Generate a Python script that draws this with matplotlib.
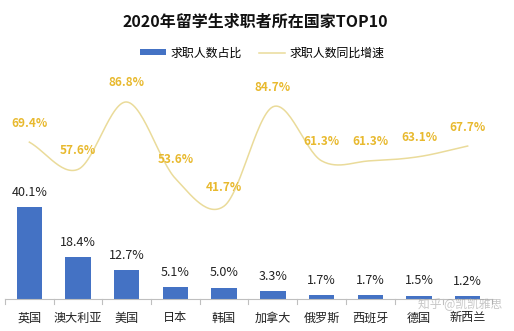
import numpy as np
import matplotlib
matplotlib.use("Agg")
import matplotlib.pyplot as plt
from matplotlib.patches import Patch
from matplotlib.lines import Line2D

plt.rcParams['font.family'] = ['Noto Sans CJK SC', 'DejaVu Sans']

countries = ["英国", "澳大利亚", "美国", "日本", "韩国", "加拿大", "俄罗斯", "西班牙", "德国", "新西兰"]
share = [40.1, 18.4, 12.7, 5.1, 5.0, 3.3, 1.7, 1.7, 1.5, 1.2]
growth = [69.4, 57.6, 86.8, 53.6, 41.7, 84.7, 61.3, 61.3, 63.1, 67.7]

BAR_COLOR = "#4472C4"
LINE_COLOR = "#EADB9A"
LABEL_GOLD = "#E8B92E"


def catmull_rom(xs, ys, n=30):
    """Smooth curve through the points (uniform Catmull-Rom)."""
    P = np.column_stack([xs, ys]).astype(float)
    P = np.vstack([2 * P[0] - P[1], P, 2 * P[-1] - P[-2]])
    out = []
    for i in range(1, len(P) - 2):
        p0, p1, p2, p3 = P[i - 1], P[i], P[i + 1], P[i + 2]
        t = np.linspace(0, 1, n, endpoint=(i == len(P) - 3))[:, None]
        seg = 0.5 * ((2 * p1) + (-p0 + p2) * t + (2 * p0 - 5 * p1 + 4 * p2 - p3) * t ** 2
                     + (-p0 + 3 * p1 - 3 * p2 + p3) * t ** 3)
        out.append(seg)
    out = np.vstack(out)
    return out[:, 0], out[:, 1]


W, H = 514, 331
fig = plt.figure(figsize=(W / 100, H / 100), dpi=100)
ax = fig.add_axes([5 / W, (H - 299) / H, 487 / W, 224 / H])
x = np.arange(len(countries))

ax.bar(x, share, width=0.52, color=BAR_COLOR, zorder=2)
for xi, v in zip(x, share):
    ax.annotate(f"{v:.1f}%", (xi, v), xytext=(0, 6), textcoords="offset points",
                ha="center", va="bottom", fontsize=9, color="#222222")
ax.set_xlim(-0.5, len(countries) - 0.5)
ax.set_ylim(0, 97.8)
ax.set_yticks([])
for s in ["top", "right", "left"]:
    ax.spines[s].set_visible(False)
ax.spines["bottom"].set_color("#BFBFBF")
ax.spines["bottom"].set_linewidth(0.8)
ax.set_xticks(x)
ax.set_xticklabels(countries, fontsize=8.7, color="#222222")
ax.tick_params(axis="x", length=0, pad=9)
# category separator ticks below the axis
for b in np.arange(-0.5, len(countries), 1.0):
    ax.plot([b, b], [0, -2.2], color="#BFBFBF", lw=0.8, clip_on=False)

ax2 = ax.twinx()
ax2.set_ylim(1.4, 98.5)
ax2.set_yticks([])
for s in ax2.spines.values():
    s.set_visible(False)
sx, sy = catmull_rom(x, growth)
ax2.plot(sx, sy, color=LINE_COLOR, lw=1.1, zorder=3)
for xi, v in zip(x, growth):
    ax2.annotate(f"{v:.1f}%", (xi, v), xytext=(0, 9), textcoords="offset points",
                 ha="center", va="bottom", fontsize=8.5, color=LABEL_GOLD, fontweight="bold")

fig.text(0.497, 1 - 22 / H, "2020年留学生求职者所在国家TOP10", ha="center", va="center",
         fontsize=11.5, fontweight="bold", color="#111111")

handles = [Patch(facecolor=BAR_COLOR, edgecolor="none"),
           Line2D([0], [0], color=LINE_COLOR, lw=1.1)]
fig.legend(handles, ["求职人数占比", "求职人数同比增速"], loc="center",
           bbox_to_anchor=(0.51, 1 - 53 / H), ncol=2, frameon=False, fontsize=8.6,
           handlelength=2.2, handleheight=0.45, columnspacing=1.4, handletextpad=0.4)

fig.text(460 / W, 1 - 304 / H, "知乎 @凯凯雅思", ha="center", va="center",
         fontsize=8.5, color="#999999", alpha=0.55)

fig.savefig("out.png", dpi=100)
